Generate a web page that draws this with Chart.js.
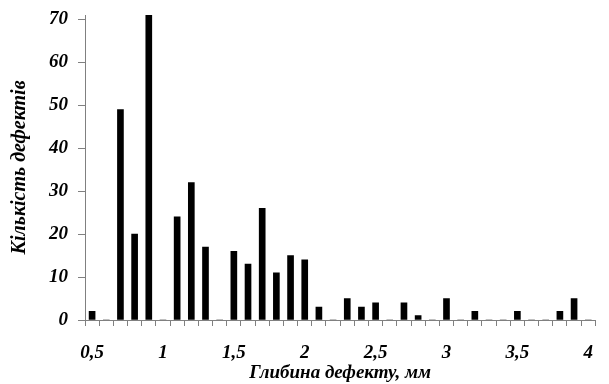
<!DOCTYPE html>
<html>
<head>
<meta charset="utf-8">
<script src="https://cdn.jsdelivr.net/npm/chart.js@4/dist/chart.umd.min.js"></script>
<style>
  html, body { margin: 0; padding: 0; background: #fff; }
</style>
</head>
<body>
<canvas id="chart" width="609" height="384"></canvas>
<script>
// depth categories, mm (step 0,1)
const depths = ['0,5', '0,6', '0,7', '0,8', '0,9', '1', '1,1', '1,2', '1,3', '1,4',
                '1,5', '1,6', '1,7', '1,8', '1,9', '2', '2,1', '2,2', '2,3', '2,4',
                '2,5', '2,6', '2,7', '2,8', '2,9', '3', '3,1', '3,2', '3,3', '3,4',
                '3,5', '3,6', '3,7', '3,8', '3,9', '4'];
// number of defects per depth
const defectCounts = [2, 0, 49, 20, 71, 0, 24, 32, 17, 0,
                      16, 13, 26, 11, 15, 14, 3, 0, 5, 3,
                      4, 0, 4, 1, 0, 5, 0, 2, 0, 0,
                      2, 0, 0, 2, 5, 0];
const yTicks = [0, 10, 20, 30, 40, 50, 60, 70];
const labelStep = 5;

const serif = '"Liberation Serif", "Times New Roman", serif';
const axisGrey = '#808080';
const boldItalic = { family: serif, size: 19, style: 'italic', weight: 'bold' };

const ctx = document.getElementById('chart').getContext('2d');
new Chart(ctx, {
    type: 'bar',
    data: {
        labels: depths,
        datasets: [{
            data: defectCounts,
            backgroundColor: '#000',
            borderWidth: 0,
            barThickness: 6
        }]
    },
    options: {
        responsive: false,
        animation: false,
        devicePixelRatio: 1,
        layout: { padding: { top: 15, right: 0, bottom: 0, left: 0 } },
        plugins: {
            legend: { display: false },
            tooltip: { enabled: false }
        },
        scales: {
            x: {
                type: 'category',
                offset: true,
                grid: {
                    offset: true,
                    drawOnChartArea: false,
                    drawTicks: true,
                    tickLength: 6,
                    color: axisGrey
                },
                border: { color: axisGrey },
                ticks: {
                    autoSkip: false,
                    maxRotation: 0,
                    padding: 16,
                    color: '#000',
                    font: boldItalic,
                    callback: (v, i) => i % labelStep === 0 ? depths[i] : ''
                },
                title: {
                    display: true,
                    text: 'Глибина дефекту, мм',
                    color: '#000',
                    font: boldItalic,
                    padding: { top: 0, bottom: 0 }
                },
                afterFit: s => { s.height = 64; }
            },
            y: {
                min: 0,
                max: 71,
                afterBuildTicks: s => { s.ticks = yTicks.map(v => ({ value: v })); },
                grid: {
                    drawOnChartArea: false,
                    drawTicks: true,
                    tickLength: 7,
                    color: axisGrey
                },
                border: { color: axisGrey },
                ticks: {
                    padding: 10,
                    color: '#000',
                    font: boldItalic
                },
                title: {
                    display: true,
                    text: 'Кількість дефектів',
                    color: '#000',
                    font: { family: serif, size: 20, style: 'italic', weight: 'bold' },
                    padding: { top: 8, bottom: 0 }
                },
                afterFit: s => {
                    s.width = 85;
                    s.paddingTop = 0;
                    s.paddingBottom = 0;
                }
            }
        }
    }
});
</script>
</body>
</html>
